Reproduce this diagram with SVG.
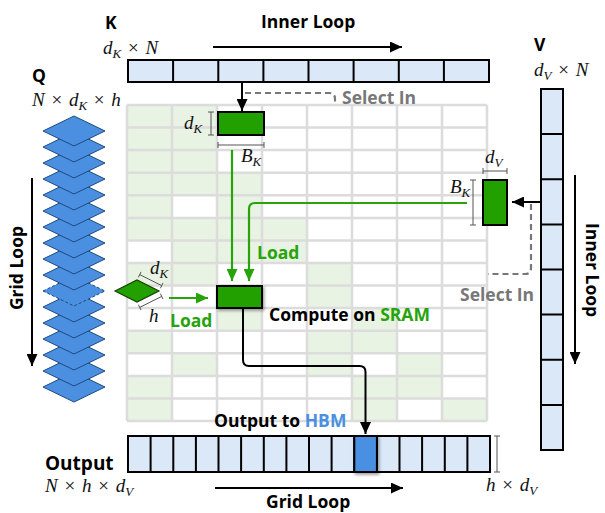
<svg xmlns="http://www.w3.org/2000/svg" width="605" height="513" viewBox="0 0 605 513">
<style>
.lbl{font-family:"Open Sans","DejaVu Sans",sans-serif;font-weight:bold;font-size:17.5px;fill:#000}
.gray{fill:#777}
.grn{fill:#27a30b}
.blu{fill:#4a90e2}
.math{font-family:"Liberation Serif","DejaVu Serif",serif;font-size:19px;fill:#111}
.it{font-style:italic}
.sub{font-style:italic;font-size:13px}
.x{word-spacing:2px}
.cellbar{fill:#dae8f8;stroke:#000;stroke-width:2}
.div{stroke:#000;stroke-width:2}
.gcell{fill:#e9f3e3}
.gridl{stroke:#dcdcdc;stroke-width:2.5;fill:none}
.blk{fill:#22a000;stroke:#000;stroke-width:2}
.brk{stroke:#555;stroke-width:1;fill:none}
.q{fill:#4a8fe0;stroke:#1e4a80;stroke-width:1}
.garr{stroke:#27a30b;stroke-width:2.2;fill:none}
.barr{stroke:#000;stroke-width:2;fill:none}
.dash{stroke:#777;stroke-width:2.2;fill:none;stroke-dasharray:6,4}
</style>
<defs>
<marker id="ab" markerUnits="userSpaceOnUse" markerWidth="12" markerHeight="11" refX="12" refY="5.5" orient="auto"><path d="M0,0 L12,5.5 L0,11 z" fill="#000"/></marker>
<marker id="ag" markerUnits="userSpaceOnUse" markerWidth="12" markerHeight="11" refX="12" refY="5.5" orient="auto"><path d="M0,0 L12,5.5 L0,11 z" fill="#27a30b"/></marker>
<filter id="sh" x="-30%" y="-30%" width="160%" height="160%"><feDropShadow dx="1.5" dy="2" stdDeviation="1.5" flood-opacity="0.35"/></filter>
</defs>

<g id="grid">
<g class="gcell">
<rect x="127" y="105" width="45" height="22.6"/><rect x="172" y="105" width="45" height="22.6"/>
<rect x="127" y="127.6" width="45" height="22.6"/><rect x="172" y="127.6" width="45" height="22.6"/>
<rect x="127" y="150.1" width="45" height="22.6"/><rect x="172" y="150.1" width="45" height="22.6"/>
<rect x="127" y="172.7" width="45" height="22.6"/><rect x="172" y="172.7" width="45" height="22.6"/><rect x="217" y="172.7" width="45" height="22.6"/>
<rect x="127" y="195.3" width="45" height="22.6"/><rect x="217" y="195.3" width="45" height="22.6"/>
<rect x="127" y="217.9" width="45" height="22.6"/><rect x="172" y="217.9" width="45" height="22.6"/><rect x="217" y="217.9" width="45" height="22.6"/><rect x="262" y="217.9" width="45" height="22.6"/>
<rect x="172" y="240.4" width="45" height="22.6"/><rect x="217" y="240.4" width="45" height="22.6"/><rect x="262" y="240.4" width="45" height="22.6"/>
<rect x="127" y="263" width="45" height="22.6"/><rect x="172" y="263" width="45" height="22.6"/><rect x="307" y="263" width="45" height="22.6"/>
<rect x="307" y="285.6" width="45" height="22.6"/>
<rect x="217" y="308.1" width="45" height="22.6"/><rect x="352" y="308.1" width="45" height="22.6"/>
<rect x="127" y="330.7" width="45" height="22.6"/><rect x="307" y="330.7" width="45" height="22.6"/><rect x="352" y="330.7" width="45" height="22.6"/>
<rect x="172" y="353.3" width="45" height="22.6"/><rect x="307" y="353.3" width="45" height="22.6"/><rect x="397" y="353.3" width="45" height="22.6"/>
<rect x="127" y="375.9" width="45" height="22.6"/><rect x="352" y="375.9" width="45" height="22.6"/><rect x="397" y="375.9" width="45" height="22.6"/>
<rect x="127" y="398.4" width="45" height="22.6"/><rect x="352" y="398.4" width="45" height="22.6"/><rect x="442" y="398.4" width="45" height="22.6"/>
</g>
<path class="gridl" d="M127,105V421M172,105V421M217,105V421M262,105V421M307,105V421M352,105V421M397,105V421M442,105V421M487,105V421
M127,105H487M127,127.6H487M127,150.1H487M127,172.7H487M127,195.3H487M127,217.9H487M127,240.4H487M127,263H487M127,285.6H487M127,308.1H487M127,330.7H487M127,353.3H487M127,375.9H487M127,398.4H487M127,421H487"/>
</g>

<g id="K">
<rect class="cellbar" x="128" y="60" width="361" height="22"/>
<path class="div" d="M173.1,60V82M218.3,60V82M263.4,60V82M308.5,60V82M353.6,60V82M398.8,60V82M443.9,60V82"/>
<text class="lbl" x="105" y="29">K</text>
<text class="math x" x="103" y="54"><tspan class="it">d</tspan><tspan class="sub" dy="3.5">K</tspan><tspan dy="-3.5"> × </tspan><tspan class="it">N</tspan></text>
</g>

<g id="V">
<rect class="cellbar" x="541" y="89" width="22" height="361"/>
<path class="div" d="M541,134.1H563M541,179.3H563M541,224.4H563M541,269.5H563M541,314.6H563M541,359.8H563M541,404.9H563"/>
<text class="lbl" x="534" y="51">V</text>
<text class="math x" x="534" y="76"><tspan class="it">d</tspan><tspan class="sub" dy="3.5">V</tspan><tspan dy="-3.5"> × </tspan><tspan class="it">N</tspan></text>
</g>

<g id="Q">
<polygon class="q" points="43,387 74,372 105,387 74,402"/>
<polygon class="q" points="43,371 74,356 105,371 74,386"/>
<polygon class="q" points="43,355 74,340 105,355 74,370"/>
<polygon class="q" points="43,339 74,324 105,339 74,354"/>
<polygon class="q" points="43,323 74,308 105,323 74,338"/>
<polygon class="q" points="43,307 74,292 105,307 74,322"/>
<polygon class="q" points="43,291 74,276 105,291 74,306" style="stroke-dasharray:3,2"/>
<polygon class="q" points="43,275 74,260 105,275 74,290"/>
<polygon class="q" points="43,259 74,244 105,259 74,274"/>
<polygon class="q" points="43,243 74,228 105,243 74,258"/>
<polygon class="q" points="43,227 74,212 105,227 74,242"/>
<polygon class="q" points="43,211 74,196 105,211 74,226"/>
<polygon class="q" points="43,195 74,180 105,195 74,210"/>
<polygon class="q" points="43,179 74,164 105,179 74,194"/>
<polygon class="q" points="43,163 74,148 105,163 74,178"/>
<polygon class="q" points="43,147 74,132 105,147 74,162"/>
<polygon class="q" points="43,131 74,116 105,131 74,146"/>
<text class="lbl" x="32" y="82">Q</text>
<text class="math x" x="32" y="106"><tspan class="it">N</tspan><tspan> × </tspan><tspan class="it">d</tspan><tspan class="sub" dy="3.5">K</tspan><tspan dy="-3.5"> × </tspan><tspan class="it">h</tspan></text>
</g>

<g id="Kblock">
<rect class="blk" x="218" y="112" width="46" height="23"/>
<path class="brk" d="M211,112V135M208,112H214M208,135H214M218,145H264M218,142V148M264,142V148"/>
<text class="math" x="184" y="129"><tspan class="it">d</tspan><tspan class="sub" dy="3.5">K</tspan></text>
<text class="math" x="241" y="162"><tspan class="it">B</tspan><tspan class="sub" dy="3.5">K</tspan></text>
</g>

<g id="Vblock">
<rect class="blk" x="483" y="180" width="24" height="45"/>
<path class="brk" d="M483,171H507M483,168V174M507,168V174M473,180V225M470,180H476M470,225H476"/>
<text class="math" x="485" y="163"><tspan class="it">d</tspan><tspan class="sub" dy="3.5">V</tspan></text>
<text class="math" x="450" y="193"><tspan class="it">B</tspan><tspan class="sub" dy="3.5">K</tspan></text>
</g>

<g id="Qblock">
<polygon points="115,291 137,280 159,291 137,302" fill="#22a000" stroke="#174000" stroke-width="1.2"/>
<path class="brk" d="M139.7,274.6L161.7,285.6M138.4,277.3L141,271.9M160.4,288.3L163,282.9M161.7,296.4L139.7,307.4M160.4,293.7L163,299.1M138.4,304.7L141,310.1"/>
<text class="math" x="150" y="274"><tspan class="it">d</tspan><tspan class="sub" dy="3.5">K</tspan></text>
<text class="math it" x="149" y="322">h</text>
</g>

<g id="compute">
<rect class="blk" x="217" y="286" width="45" height="22" filter="url(#sh)"/>
<text class="lbl" x="269" y="321">Compute on <tspan class="grn">SRAM</tspan></text>
</g>

<g id="output">
<rect class="cellbar" x="128" y="436" width="362" height="36"/>
<path class="div" d="M150.6,436V472M173.3,436V472M195.9,436V472M218.5,436V472M241.1,436V472M263.8,436V472M286.4,436V472M309,436V472M331.6,436V472M354.3,436V472M376.9,436V472M399.5,436V472M422.1,436V472M444.8,436V472M467.4,436V472"/>
<rect x="354.3" y="436" width="22.6" height="36" fill="#4a90e2" stroke="#000" stroke-width="2" filter="url(#sh)"/>
<path class="brk" d="M497,436V472M494,436H500M494,472H500"/>
<text class="lbl" x="45" y="470" style="font-size:19px">Output</text>
<text class="math x" x="45" y="492"><tspan class="it">N</tspan><tspan> × </tspan><tspan class="it">h</tspan><tspan> × </tspan><tspan class="it">d</tspan><tspan class="sub" dy="3.5">V</tspan></text>
<text class="math x" x="486" y="491"><tspan class="it">h</tspan><tspan> × </tspan><tspan class="it">d</tspan><tspan class="sub" dy="3.5">V</tspan></text>
</g>

<g id="connectors">
<line class="barr" x1="213" y1="47" x2="402" y2="47" marker-end="url(#ab)"/>
<line class="barr" x1="32" y1="178" x2="32" y2="366" marker-end="url(#ab)"/>
<line class="barr" x1="575" y1="175" x2="575" y2="364" marker-end="url(#ab)"/>
<line class="barr" x1="215" y1="488" x2="403" y2="488" marker-end="url(#ab)"/>
<path class="dash" d="M245,93H329Q335,93 335,99V105"/>
<path class="dash" d="M531,204V268Q531,274 525,274H488"/>
<line class="barr" x1="242" y1="82" x2="242" y2="111" marker-end="url(#ab)"/>
<line class="barr" x1="541" y1="202" x2="512" y2="202" marker-end="url(#ab)"/>
<line class="garr" x1="232" y1="150" x2="232" y2="281" marker-end="url(#ag)"/>
<path class="garr" d="M467,203H255Q249,203 249,209V281" marker-end="url(#ag)"/>
<line class="garr" x1="169" y1="298" x2="208" y2="298" marker-end="url(#ag)"/>
<path class="barr" d="M243,308V360Q243,366 249,366H359.5Q365.5,366 365.5,372V434" marker-end="url(#ab)"/>
</g>

<g id="labels">
<text class="lbl" x="261" y="28">Inner Loop</text>
<text class="lbl" x="266" y="508">Grid Loop</text>
<text class="lbl" transform="translate(23,268) rotate(-90)" text-anchor="middle">Grid Loop</text>
<text class="lbl" transform="translate(586,270) rotate(90)" text-anchor="middle">Inner Loop</text>
<text class="lbl gray" x="342" y="104">Select In</text>
<text class="lbl gray" x="460" y="301">Select In</text>
<text class="lbl grn" x="257" y="259">Load</text>
<text class="lbl grn" x="170" y="327">Load</text>
<text class="lbl" x="214" y="427">Output to <tspan class="blu">HBM</tspan></text>
</g>
</svg>
